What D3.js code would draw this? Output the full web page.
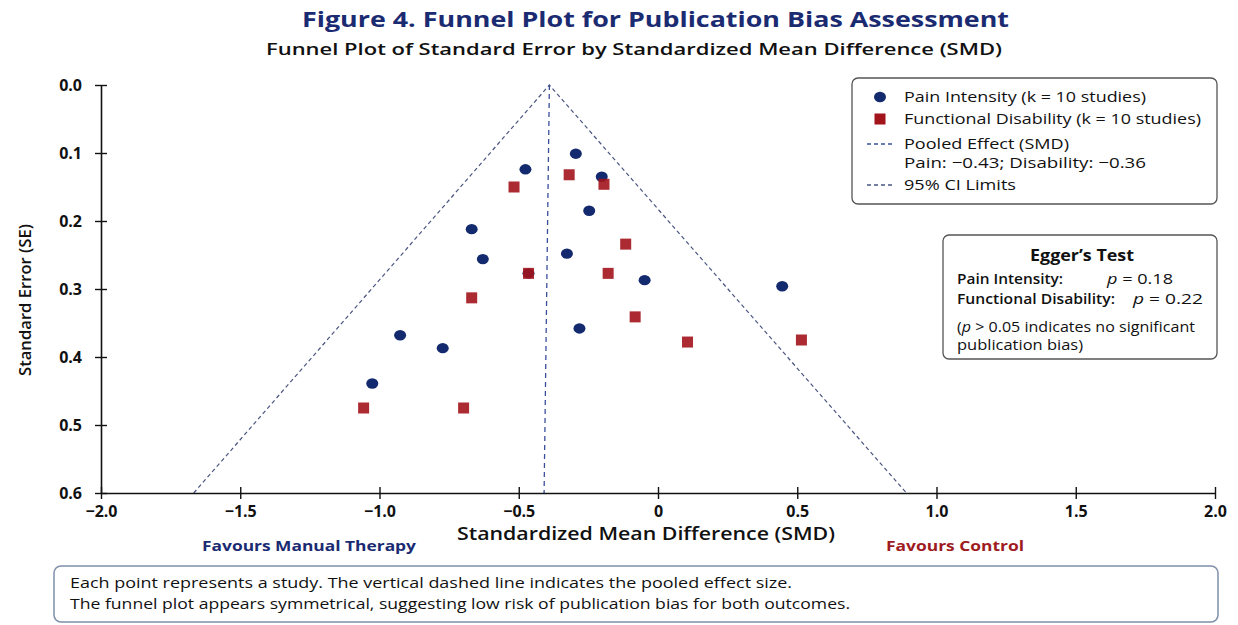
<!DOCTYPE html>
<html>
<head>
<meta charset="utf-8">
<script src="https://cdn.jsdelivr.net/npm/d3@7"></script>
<style>
  body { margin: 0; background: #fff; }
  svg { display: block; }
</style>
</head>
<body>
<svg id="chart" width="1238" height="625"></svg>
<script>
// Study-level effect sizes (SMD) and standard errors
const painSMD = [-0.476, -0.295, -0.202, -0.247, -0.669, -0.629, -0.327, -0.465, -0.048, 0.446, -0.282, -0.926, -0.773, -1.026];
const painSE  = [ 0.124,  0.101,  0.135,  0.185,  0.212,  0.256,  0.248,  0.277,  0.287, 0.296,  0.358,  0.368,  0.387,  0.439];

const disabilitySMD = [-0.517, -0.319, -0.194, -0.116, -0.465, -0.179, -0.669, -0.082, 0.106, 0.515, -1.057, -0.698];
const disabilitySE  = [ 0.150,  0.132,  0.146,  0.234,  0.277,  0.277,  0.313,  0.341, 0.378, 0.375,  0.475,  0.475];

// Funnel (95% CI limits) and pooled-effect reference line
const funnelSMD = [-1.667, -0.39, 0.892];
const funnelSE  = [ 0.6,    0.0,  0.6];
const pooledSMD = [-0.39, -0.409];
const pooledSE  = [ 0.0,   0.6];

const xTicks = [-2, -1.5, -1, -0.5, 0, 0.5, 1, 1.5, 2];
const yTicks = [0, 0.1, 0.2, 0.3, 0.4, 0.5, 0.6];

const legendItems = [
  { kind: "circle", lines: ["Pain Intensity (k = 10 studies)"], widths: [242] },
  { kind: "square", lines: ["Functional Disability (k = 10 studies)"], widths: [297] },
  { kind: "pooled", lines: ["Pooled Effect (SMD)", "Pain: \u22120.43; Disability: \u22120.36"], widths: [165, 242] },
  { kind: "ci",     lines: ["95% CI Limits"], widths: [112] }
];
const eggerRows = [
  { label: "Pain Intensity:", p: "0.18" },
  { label: "Functional Disability:", p: "0.22" }
];
const noteLines = [
  "Each point represents a study. The vertical dashed line indicates the pooled effect size.",
  "The funnel plot appears symmetrical, suggesting low risk of publication bias for both outcomes."
];

const NAVY = "#1b2b72";
const CIRCLE = "#132a6e";
const RED = "#a3131b";
const FONT = "'Open Sans', 'Noto Sans', sans-serif";

const svg = d3.select("#chart");
const plot = { left: 101, right: 1215, top: 85, bottom: 493 };

const x = d3.scaleLinear().domain([-2, 2]).range([plot.left, plot.right]);
const y = d3.scaleLinear().domain([0, 0.6]).range([plot.top, plot.bottom]);

// set a text element to a given rendered width
function fit(sel, w) {
  sel.attr("textLength", w).attr("lengthAdjust", "spacingAndGlyphs");
  return sel;
}
function label(parent, px, py, size, weight, fill, str) {
  return parent.append("text").attr("x", px).attr("y", py)
    .attr("font-family", FONT).attr("font-size", size).attr("font-weight", weight)
    .attr("fill", fill).text(str);
}

// Titles
fit(label(svg, 302, 27, 22, 700, NAVY, "Figure 4. Funnel Plot for Publication Bias Assessment"), 707);
fit(label(svg, 266, 55, 17, 600, "#111", "Funnel Plot of Standard Error by Standardized Mean Difference (SMD)"), 736);

// Funnel and pooled line
const line = d3.line().x(d => x(d[0])).y(d => y(d[1]));
svg.append("path")
  .attr("d", line(d3.zip(funnelSMD, funnelSE)))
  .attr("fill", "none").attr("stroke", "#4a5580").attr("stroke-width", 1.2)
  .attr("stroke-dasharray", "4,3");
svg.append("path")
  .attr("d", line(d3.zip(pooledSMD, pooledSE)))
  .attr("fill", "none").attr("stroke", "#3a4f9a").attr("stroke-width", 1.3)
  .attr("stroke-dasharray", "5,4");

// Axes
const fmtX = d => d === 0 ? "0" : d3.format(".1f")(d);
const xAxis = svg.append("g").attr("transform", `translate(0,${plot.bottom})`)
  .call(d3.axisBottom(x).tickValues(xTicks).tickFormat(fmtX).tickSizeOuter(0).tickSizeInner(6));
xAxis.selectAll(".tick line").attr("y1", -6).attr("y2", 6);
xAxis.selectAll(".tick text").attr("y", 24).attr("dy", 0);
const yAxis = svg.append("g").attr("transform", `translate(${plot.left},0)`)
  .call(d3.axisLeft(y).tickValues(yTicks).tickFormat(d3.format(".1f")).tickSizeOuter(0).tickSizeInner(6).tickPadding(13));
yAxis.selectAll(".tick line").attr("x1", -6).attr("x2", 6);
[xAxis, yAxis].forEach(g => {
  g.select(".domain").attr("stroke", "#111").attr("stroke-width", 1.6);
  g.selectAll(".tick line").attr("stroke", "#111").attr("stroke-width", 1.4);
  g.selectAll(".tick text").attr("font-family", FONT).attr("font-size", 16)
    .attr("font-weight", 700).attr("fill", "#111");
});

// Axis titles
fit(svg.append("text").attr("transform", "translate(31,300) rotate(-90)")
  .attr("text-anchor", "middle").attr("font-family", FONT).attr("font-size", 17)
  .attr("font-weight", 600).attr("fill", "#111").text("Standard Error (SE)"), 152);
fit(label(svg, 457, 540, 18, 600, "#111", "Standardized Mean Difference (SMD)"), 378);
fit(label(svg, 202, 551, 14, 700, NAVY, "Favours Manual Therapy"), 214);
fit(label(svg, 886, 551, 14, 700, "#9e1b1f", "Favours Control"), 138);

// Study points
svg.append("g").selectAll("ellipse")
  .data(d3.zip(painSMD, painSE)).join("ellipse")
  .attr("cx", d => x(d[0])).attr("cy", d => y(d[1]))
  .attr("rx", 6).attr("ry", 5.2).attr("fill", CIRCLE);
const sq = 11;
svg.append("g").selectAll("rect")
  .data(d3.zip(disabilitySMD, disabilitySE)).join("rect")
  .attr("x", d => x(d[0]) - sq / 2).attr("y", d => y(d[1]) - sq / 2)
  .attr("width", sq).attr("height", sq).attr("fill", RED).attr("fill-opacity", 0.9);

// Legend
const lg = svg.append("g");
lg.append("rect").attr("x", 852).attr("y", 78).attr("width", 365).attr("height", 126)
  .attr("rx", 6).attr("fill", "#fff").attr("stroke", "#555").attr("stroke-width", 1.3);
const rowY = [97, 119, 144, 185];
legendItems.forEach((it, i) => {
  const cy = rowY[i];
  if (it.kind === "circle") {
    lg.append("ellipse").attr("cx", 880).attr("cy", cy).attr("rx", 6).attr("ry", 5.2).attr("fill", CIRCLE);
  } else if (it.kind === "square") {
    lg.append("rect").attr("x", 880 - sq / 2).attr("y", cy - sq / 2).attr("width", sq).attr("height", sq).attr("fill", RED);
  } else {
    lg.append("line").attr("x1", 867).attr("x2", 893).attr("y1", cy).attr("y2", cy)
      .attr("stroke", it.kind === "pooled" ? "#3a4f9a" : "#4a5580").attr("stroke-width", 1.3)
      .attr("stroke-dasharray", "4,3");
  }
  it.lines.forEach((t, j) => {
    fit(label(lg, 904, cy + j * 19, 15, 400, "#111", t).attr("dy", "0.35em"), it.widths[j]);
  });
});

// Egger's test box
const eg = svg.append("g");
eg.append("rect").attr("x", 943).attr("y", 235).attr("width", 274).attr("height", 124)
  .attr("rx", 6).attr("fill", "#fff").attr("stroke", "#555").attr("stroke-width", 1.3);
fit(label(eg, 1030, 255, 16, 700, "#111", "Egger\u2019s Test").attr("dy", "0.35em"), 104);
const pX = [1107, 1133];
const labelW = [106, 158];
const pW = [66, 70];
eggerRows.forEach((r, i) => {
  const ty = 279 + i * 20;
  fit(label(eg, 957, ty, 14, 600, "#111", r.label).attr("dy", "0.35em"), labelW[i]);
  const t = label(eg, pX[i], ty, 14, 500, "#111", null).attr("dy", "0.35em");
  t.append("tspan").attr("font-style", "italic").text("p");
  t.append("tspan").text(" = " + r.p);
  fit(t, pW[i]);
});
const n1 = label(eg, 957, 327, 14, 500, "#111", null).attr("dy", "0.35em");
n1.append("tspan").text("(");
n1.append("tspan").attr("font-style", "italic").text("p");
n1.append("tspan").text(" > 0.05 indicates no significant");
fit(n1, 238);
fit(label(eg, 957, 345, 14, 500, "#111", "publication bias)").attr("dy", "0.35em"), 126);

// Footnote box
const nb = svg.append("g");
nb.append("rect").attr("x", 54).attr("y", 566).attr("width", 1164).attr("height", 56)
  .attr("rx", 7).attr("fill", "#fff").attr("stroke", "#7d8fab").attr("stroke-width", 1.5);
const noteW = [722, 780];
noteLines.forEach((t, i) => {
  fit(label(nb, 70, 583 + i * 21, 14, 400, "#111", t).attr("dy", "0.35em"), noteW[i]);
});
</script>
</body>
</html>
